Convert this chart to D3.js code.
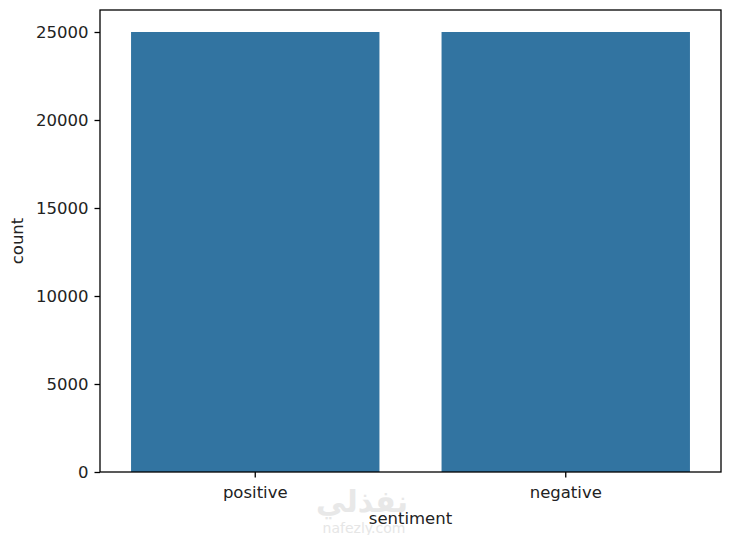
<!DOCTYPE html>
<html>
<head>
<meta charset="utf-8">
<script src="https://cdn.jsdelivr.net/npm/d3@7"></script>
<style>
  body { margin: 0; background: #fff; }
  svg text { font-family: "DejaVu Sans", sans-serif; fill: #222; }
</style>
</head>
<body>
<div id="chart"></div>
<script>
var categories = ["positive", "negative"];
var counts = [25000, 25000];
var yTicks = [0, 5000, 10000, 15000, 20000, 25000];

var width = 729, height = 535;
var plotLeft = 100, plotRight = 721, plotTop = 10, plotBottom = 472;

var svg = d3.select("#chart").append("svg")
  .attr("width", width)
  .attr("height", height);

var x = d3.scaleBand()
  .domain(categories)
  .range([plotLeft, plotRight])
  .paddingInner(0.2)
  .paddingOuter(0.1);

var y = d3.scaleLinear()
  .domain([0, d3.max(counts) * 1.05])
  .range([plotBottom, plotTop]);

// bars
svg.selectAll(".bar")
  .data(categories)
  .enter().append("rect")
  .attr("x", function(d) { return x(d); })
  .attr("width", x.bandwidth())
  .attr("y", function(d, i) { return y(counts[i]); })
  .attr("height", function(d, i) { return plotBottom - y(counts[i]); })
  .attr("fill", "#3274a1");

// axes
var yAxis = svg.append("g")
  .attr("transform", "translate(" + plotLeft + ",0)")
  .call(d3.axisLeft(y).tickValues(yTicks).tickSize(5.5).tickPadding(6).tickFormat(d3.format("d")));
var xAxis = svg.append("g")
  .attr("transform", "translate(0," + plotBottom + ")")
  .call(d3.axisBottom(x).tickSize(5.5).tickPadding(6));

[xAxis, yAxis].forEach(function(a) {
  a.select(".domain").remove();
  a.selectAll(".tick line").attr("stroke", "#000").attr("stroke-width", 1.3);
  a.selectAll("text").style("font-size", "16.5px").attr("fill", "#222");
});
xAxis.selectAll("text").attr("dy", "0.9em");

// frame
svg.append("rect")
  .attr("x", plotLeft).attr("y", plotTop)
  .attr("width", plotRight - plotLeft).attr("height", plotBottom - plotTop)
  .attr("fill", "none").attr("stroke", "#000").attr("stroke-width", 1.3);

// watermark (faint, sits behind the x label as in the reference)
svg.append("text")
  .attr("x", 362).attr("y", 512)
  .attr("text-anchor", "middle")
  .style("font-size", "30px").style("font-weight", "bold")
  .style("fill", "#e8e8e8")
  .text("نفذلي");
svg.append("text")
  .attr("x", 364).attr("y", 533)
  .attr("text-anchor", "middle")
  .style("font-size", "14px")
  .style("fill", "#e6e6e6")
  .text("nafezly.com");

// labels
svg.append("text")
  .attr("x", (plotLeft + plotRight) / 2).attr("y", 524)
  .attr("text-anchor", "middle")
  .style("font-size", "16.5px")
  .text("sentiment");
svg.append("text")
  .attr("transform", "translate(23," + (plotTop + plotBottom) / 2 + ") rotate(-90)")
  .attr("text-anchor", "middle")
  .style("font-size", "16.5px")
  .text("count");
</script>
</body>
</html>
